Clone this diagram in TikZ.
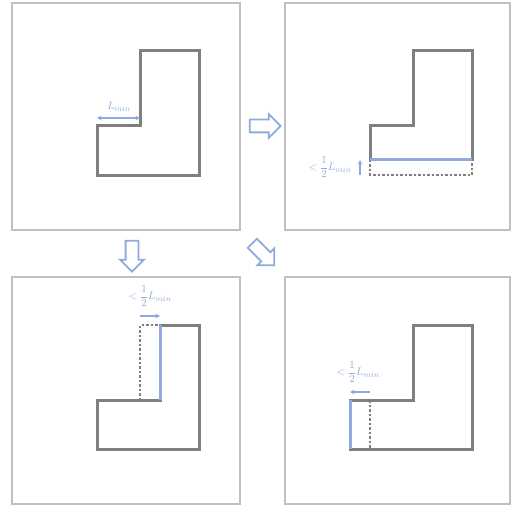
\documentclass[tikz,border=0pt]{standalone}
\usetikzlibrary{shapes.arrows,arrows.meta}
\definecolor{frame}{HTML}{BFBFBF}
\definecolor{wall}{HTML}{7F7F7F}
\definecolor{accent}{HTML}{8FAADC}
\begin{document}
\begin{tikzpicture}[x=1bp,y=-1bp,
  panel/.style={draw=frame,line width=2.5bp},
  outline/.style={draw=wall,line width=3bp,line join=miter,line cap=rect},
  moved/.style={draw=accent,line width=3bp},
  ghost/.style={draw=wall,line width=2.5bp,dash pattern=on 2.5bp off 2bp},
  dim/.style={draw=accent,line width=1.3bp,-{Stealth[length=4.5bp,width=4.5bp]}},
  dimtext/.style={text=accent,font=\fontsize{11}{13}\selectfont,inner sep=0pt},
  step arrow/.style={single arrow,draw=accent,line width=1.8bp,fill=white,
    minimum height=31bp,inner xsep=0pt,inner ysep=5.5bp,single arrow head extend=5.5bp,
    single arrow tip angle=90}]
\useasboundingbox (0,0) rectangle (511,506);

% four frames
\draw[panel] (12,3) rectangle (240,230);
\draw[panel] (285,3) rectangle (510,230);
\draw[panel] (12,277) rectangle (240,504);
\draw[panel] (285,277) rectangle (510,504);

% original L-shaped outline
\draw[outline] (140,51) -- (199,51) -- (199,176) -- (97,176) -- (97,126) -- (140,126) -- cycle;
\coordinate (la) at (97,118);
\coordinate (lb) at (140,118);
\draw[draw=accent,line width=1.3bp,{Stealth[length=4.5bp,width=4.5bp]}-{Stealth[length=4.5bp,width=4.5bp]}] (la) -- (lb);
\node[dimtext] (lmin) at (119,107) {$L_{min}$};

% bottom edge moved up
\draw[outline] (370,160) -- (370,126) -- (413,126) -- (413,51) -- (472,51) -- (472,160);
\draw[ghost] (370,160) -- (370,175) -- (472,175) -- (472,160);
\draw[moved] (370,160) -- (472,160);
\coordinate (ua) at (360,175);
\coordinate (ub) at (360,160);
\draw[dim] (ua) -- (ub);
\node[dimtext] (lu) at (330,167) {$<\displaystyle\frac{1}{2}L_{min}$};

% left edge of the upper arm moved right
\draw[outline] (160,325) -- (199,325) -- (199,449) -- (97,449) -- (97,400) -- (160,400);
\draw[ghost] (140,400) -- (140,325) -- (160,325);
\draw[moved] (160,325) -- (160,400);
\coordinate (ra) at (140,316);
\coordinate (rb) at (160,316);
\draw[dim] (ra) -- (rb);
\node[dimtext] (lr) at (150,296) {$<\displaystyle\frac{1}{2}L_{min}$};

% left edge of the lower arm moved left
\draw[outline] (350,400) -- (413,400) -- (413,325) -- (472,325) -- (472,449) -- (350,449);
\draw[ghost] (370,400) -- (370,449);
\draw[moved] (350,400) -- (350,449);
\coordinate (sa) at (370,392);
\coordinate (sb) at (350,392);
\draw[dim] (sa) -- (sb);
\node[dimtext] (ls) at (358,372) {$<\displaystyle\frac{1}{2}L_{min}$};

% transitions between the panels
\node[step arrow] (toright) at (262,126) {};
\node[step arrow,rotate=-90] (todown) at (132,253) {};
\node[step arrow,rotate=-45] (todiag) at (261,252) {};
\end{tikzpicture}
\end{document}
